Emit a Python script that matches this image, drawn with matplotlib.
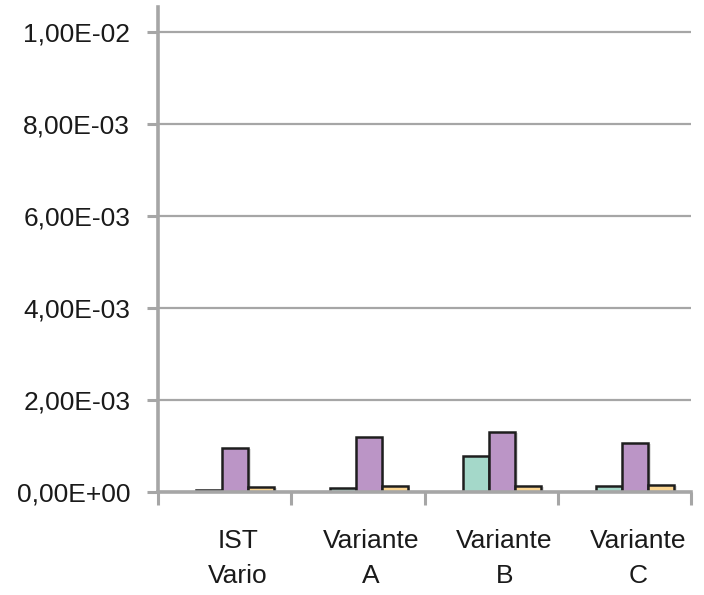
import numpy as np
import matplotlib
matplotlib.use("Agg")
import matplotlib.pyplot as plt
import matplotlib.patheffects as pe

plt.rcParams['font.family'] = ['Liberation Sans', 'DejaVu Sans']

categories = ['IST\nVario', 'Variante\nA', 'Variante\nB', 'Variante\nC']
serie_1 = [0.05e-3, 0.08e-3, 0.79e-3, 0.14e-3]
serie_2 = [0.96e-3, 1.19e-3, 1.31e-3, 1.07e-3]
serie_3 = [0.11e-3, 0.13e-3, 0.13e-3, 0.16e-3]
yticks = [0, 2e-3, 4e-3, 6e-3, 8e-3, 1e-2]
ytick_labels = ['0,00E+00', '2,00E-03', '4,00E-03', '6,00E-03', '8,00E-03', '1,00E-02']

colors = ['#A4D8C9', '#BB95C6', '#FBD590']
grey = '#A6A6A6'

fig = plt.figure(figsize=(7.04, 5.95), dpi=100)
ax = fig.add_axes([158/704, 103/595, 533/704, 485/595])

x = np.arange(len(categories))
shift = 0.08  # groups sit a little right of the category centre
w = 0.195
shadow = [pe.SimplePatchShadow(offset=(2, -1), shadow_rgbFace='#888888', alpha=0.25), pe.Normal()]
for i, (vals, c) in enumerate(zip([serie_1, serie_2, serie_3], colors)):
    bars = ax.bar(x + shift + (i - 1) * w, vals, w, color=c, edgecolor='#1e1e1e', linewidth=1.8, zorder=2)
    for b in bars:
        b.set_path_effects(shadow)

ax.set_xlim(-0.5, 3.5)
ax.set_ylim(0, 0.010543)

ax.set_yticks(yticks)
ax.set_yticklabels(ytick_labels, fontsize=19, color='#1a1a1a')
ax.yaxis.grid(True, color=grey, linewidth=1.6)
ax.set_axisbelow(True)

ax.set_xticks(np.arange(-0.5, 4.0, 1.0))
ax.set_xticklabels([])
ax.set_xticks(x + shift + 0.02, minor=True)
ax.set_xticklabels(categories, minor=True, fontsize=19, color='#1a1a1a', linespacing=1.55)

ax.tick_params(axis='y', length=8, width=2.2, color=grey, pad=12)
ax.tick_params(axis='x', which='major', length=9, width=2.2, color=grey)
ax.tick_params(axis='x', which='minor', length=0, pad=27)

for s in ['top', 'right']:
    ax.spines[s].set_visible(False)
for s in ['left', 'bottom']:
    ax.spines[s].set_color(grey)
    ax.spines[s].set_linewidth(2.6)
ax.spines['bottom'].set_zorder(3)

fig.savefig('out.png', dpi=100)
